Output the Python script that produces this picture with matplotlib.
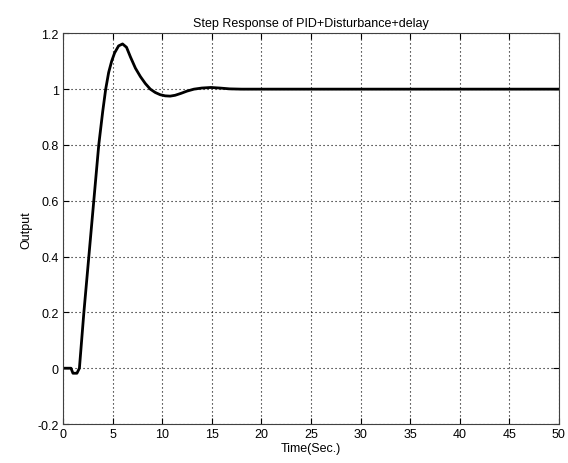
import matplotlib
matplotlib.use('Agg')
import matplotlib.pyplot as plt

plt.rcParams['font.family'] = ['Liberation Sans', 'DejaVu Sans']

# step response
t = [0, 0.8, 1.0, 1.4, 1.65, 2.1, 2.6, 3.1, 3.6, 4.0, 4.3, 4.6, 4.9, 5.2, 5.6,
     6.0, 6.4, 6.8, 7.3, 7.8, 8.3, 8.8, 9.3, 9.8, 10.3, 10.8, 11.3, 11.9,
     12.5, 13.2, 14.0, 14.9, 15.8, 16.8, 18, 20, 50]
y = [0, 0, -0.018, -0.018, 0.0, 0.2, 0.4, 0.6, 0.8, 0.92, 1.0, 1.06, 1.1, 1.13,
     1.155, 1.162, 1.15, 1.115, 1.075, 1.045, 1.02, 1.0, 0.988, 0.98, 0.976,
     0.975, 0.978, 0.985, 0.993, 1.0, 1.004, 1.006, 1.004, 1.001, 1.0, 1.0, 1.0]

xticks = [0, 5, 10, 15, 20, 25, 30, 35, 40, 45, 50]
yticks = [-0.2, 0, 0.2, 0.4, 0.6, 0.8, 1, 1.2]
ylabels = ['-0.2', '0', '0.2', '0.4', '0.6', '0.8', '1', '1.2']

fig = plt.figure(figsize=(5.68, 4.64), dpi=100)
ax = fig.add_axes([0.111, 0.084, 0.873, 0.842])

ax.plot(t, y, color='k', lw=2.0)

ax.set_xlim(0, 50)
ax.set_ylim(-0.2, 1.2)
ax.set_xticks(xticks)
ax.set_yticks(yticks)
ax.set_yticklabels(ylabels)
ax.tick_params(direction='in', top=True, right=True, labelsize=9, length=4, pad=3)
ax.grid(True, color='k', linestyle=(0, (1, 2.6)), lw=0.8)
for s in ax.spines.values():
    s.set_color('#404040')

ax.set_title('Step Response of PID+Disturbance+delay', fontsize=9, pad=5)
ax.set_xlabel('Time(Sec.)', fontsize=9, labelpad=1)
ax.set_ylabel('Output', fontsize=9, labelpad=4)

plt.savefig('out.png', dpi=100)
